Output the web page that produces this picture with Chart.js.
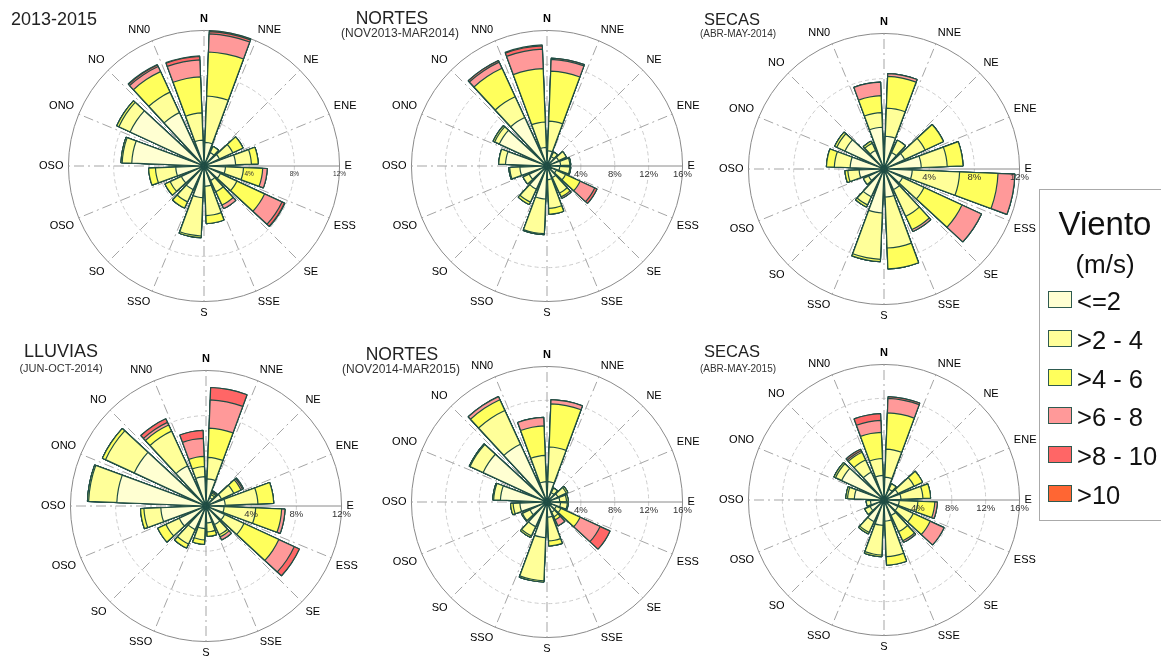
<!DOCTYPE html>
<html lang="es">
<head>
<meta charset="utf-8">
<title>Rosas de viento</title>
<script src="https://cdn.jsdelivr.net/npm/chart.js@4.4.1/dist/chart.umd.min.js"></script>
<style>
body { margin:0; width:1161px; height:662px; background:#fff; overflow:hidden; position:relative; font-family:"Liberation Sans", Arial, sans-serif; }
canvas { position:absolute; }
.tit { position:absolute; width:200px; text-align:center; line-height:1; color:#222; white-space:nowrap; }
#leyenda { position:absolute; left:1039px; top:189px; width:140px; height:332px; border:1px solid #aaa; box-sizing:border-box; }
.ley { position:absolute; line-height:1; color:#111; white-space:nowrap; }
.cuadro { position:absolute; left:1048px; width:22px; height:15px; border:1px solid #2e5a50; }
</style>
</head>
<body>

<canvas id="rosa1" width="330" height="330" style="left:33px;top:1px"></canvas>
<canvas id="rosa2" width="330" height="330" style="left:376px;top:1px"></canvas>
<canvas id="rosa3" width="330" height="330" style="left:713px;top:4px"></canvas>
<canvas id="rosa4" width="330" height="330" style="left:35px;top:341px"></canvas>
<canvas id="rosa5" width="330" height="330" style="left:376px;top:337px"></canvas>
<canvas id="rosa6" width="330" height="330" style="left:713px;top:335px"></canvas>

<div class="tit" style="left:-46px;top:10px;font-size:18px">2013-2015</div>
<div class="tit" style="left:292px;top:10px;font-size:17.5px">NORTES</div>
<div class="tit" style="left:300px;top:27px;font-size:12px;color:#333">(NOV2013-MAR2014)</div>
<div class="tit" style="left:632px;top:11px;font-size:16.5px">SECAS</div>
<div class="tit" style="left:638px;top:28.5px;font-size:10px;color:#333">(ABR-MAY-2014)</div>
<div class="tit" style="left:-39px;top:342px;font-size:18px">LLUVIAS</div>
<div class="tit" style="left:-39px;top:362.5px;font-size:11px;color:#333">(JUN-OCT-2014)</div>
<div class="tit" style="left:302px;top:346px;font-size:17.5px">NORTES</div>
<div class="tit" style="left:301px;top:363px;font-size:12px;color:#333">(NOV2014-MAR2015)</div>
<div class="tit" style="left:632px;top:343px;font-size:16.5px">SECAS</div>
<div class="tit" style="left:638px;top:363.5px;font-size:10px;color:#333">(ABR-MAY-2015)</div>

<div id="leyenda"></div>
<div class="ley" style="left:1005px;width:200px;text-align:center;top:207px;font-size:33px">Viento</div>
<div class="ley" style="left:1005px;width:200px;text-align:center;top:251px;font-size:26px">(m/s)</div>
<div id="items"></div>

<script>
// direcciones (etiquetas del eje) y rangos de velocidad
var direcciones = ['N', 'NNE', 'NE', 'ENE', 'E', 'ESS', 'SE', 'SSE', 'S', 'SSO', 'SO', 'OSO', 'OSO', 'ONO', 'NO', 'NN0'];
var rangos = ['<=2', '>2 - 4', '>4 - 6', '>6 - 8', '>8 - 10', '>10'];
var colores = ['#ffffd2', '#ffff99', '#ffff5c', '#ff9999', '#ff6666', '#ff6633'];

// frecuencia (%) por sector, sector 0 = N-NNE y sigue en sentido horario
// 2013-2015
var r1_b0 = [2.1, 1.3, 1.5, 2.8, 1.9, 1.6, 1.4, 1.8, 2.8, 2.3, 2.2, 2.5, 6.4, 7.2, 5.2, 2.3];
var r1_b1 = [4.1, 0.6, 1.3, 1.4, 1.6, 1.6, 1.1, 2.6, 3.4, 1.2, 1.1, 1.8, 0.85, 1.1, 2.0, 2.4];
var r1_b2 = [3.9, 0, 1.0, 0.6, 1.7, 2.7, 1.3, 0.7, 0.15, 0.6, 0.5, 0.6, 0.1, 0.2, 2.0, 3.2];
var r1_b3 = [1.6, 0, 0, 0, 0.4, 1.7, 0.35, 0, 0, 0, 0, 0, 0, 0, 0.5, 1.5];
var r1_b4 = [0.2, 0, 0, 0, 0, 0.25, 0, 0, 0, 0, 0, 0, 0, 0, 0.15, 0.3];
var r1_b5 = [0.1, 0, 0, 0, 0, 0.05, 0, 0, 0, 0, 0, 0, 0, 0, 0.05, 0.05];

// nortes nov2013-mar2014
var r2_b0 = [1.8, 1.2, 1.5, 1.6, 1.5, 1.2, 1.5, 1.6, 3.9, 3.0, 2.3, 3.2, 4.9, 6.2, 6.3, 2.2];
var r2_b1 = [3.5, 0.6, 1.0, 1.1, 1.2, 1.2, 2.0, 3.4, 4.1, 1.7, 0.8, 1.2, 0.8, 0.6, 2.7, 3.0];
var r2_b2 = [5.9, 0, 0, 0.1, 0.1, 1.9, 0.5, 0.7, 0.1, 0.3, 0, 0.1, 0, 0.2, 3.7, 6.3];
var r2_b3 = [1.4, 0, 0, 0, 0, 1.9, 0.2, 0, 0, 0, 0, 0, 0, 0, 0.8, 2.3];
var r2_b4 = [0.15, 0, 0, 0, 0, 0.3, 0, 0, 0, 0, 0, 0, 0, 0, 0.2, 0.4];
var r2_b5 = [0, 0, 0, 0, 0, 0, 0, 0, 0, 0, 0, 0, 0, 0, 0, 0.1];

// secas abr-may 2014
var r3_b0 = [2.9, 1.6, 2.0, 3.3, 2.5, 1.8, 2.0, 2.5, 3.9, 2.7, 1.5, 2.2, 3.0, 3.8, 1.8, 3.7];
var r3_b1 = [2.5, 1.2, 2.0, 2.3, 4.2, 2.1, 2.6, 4.5, 4.1, 0.8, 0.5, 1.0, 1.4, 0.8, 0.7, 1.3];
var r3_b2 = [2.8, 0, 1.8, 1.4, 3.4, 3.7, 1.3, 1.85, 0.2, 0.2, 0, 0.25, 0.7, 0.2, 0.2, 1.5];
var r3_b3 = [0.25, 0, 0, 0, 1.5, 1.9, 0.2, 0, 0, 0, 0, 0, 0, 0, 0, 1.2];
var r3_b4 = [0, 0, 0, 0, 0, 0, 0, 0, 0, 0, 0, 0, 0, 0, 0, 0];
var r3_b5 = [0, 0, 0, 0, 0, 0, 0, 0, 0, 0, 0, 0, 0, 0, 0, 0];

// lluvias jun-oct 2014
var r4_b0 = [2.4, 0.8, 1.5, 1.7, 1.6, 1.8, 1.8, 1.5, 2.0, 2.3, 2.6, 4.0, 7.9, 7.0, 3.9, 2.6];
var r4_b1 = [1.9, 0.3, 1.2, 2.9, 2.8, 1.9, 1.0, 0.8, 1.0, 1.4, 1.3, 1.5, 2.5, 2.8, 3.4, 0.9];
var r4_b2 = [2.6, 0.15, 0.7, 1.4, 2.3, 3.4, 0.2, 0.4, 0.4, 0.4, 0.8, 0.3, 0.1, 0.3, 0.6, 0.9];
var r4_b3 = [2.5, 0.1, 0.15, 0, 0.3, 1.5, 0.3, 0, 0, 0, 0, 0, 0, 0, 0.25, 1.6];
var r4_b4 = [1.1, 0.1, 0.1, 0, 0, 0.5, 0, 0, 0, 0, 0, 0, 0, 0, 0.35, 0.7];
var r4_b5 = [0, 0, 0, 0, 0, 0, 0, 0, 0, 0, 0, 0, 0, 0, 0, 0];

// nortes nov2014-mar2015
var r5_b0 = [2.4, 1.2, 1.4, 1.5, 1.6, 1.2, 1.3, 1.8, 4.2, 3.2, 2.2, 3.2, 5.5, 8.3, 7.5, 2.4];
var r5_b1 = [4.1, 0.6, 1.1, 0.8, 0.8, 0.6, 0.6, 2.8, 5.1, 1.2, 1.0, 0.8, 0.8, 1.7, 4.4, 3.1];
var r5_b2 = [5.1, 0, 0.2, 0.2, 0.1, 2.5, 0.4, 0.6, 0.15, 0.2, 0.1, 0.3, 0.1, 0.1, 1.4, 3.5];
var r5_b3 = [0.5, 0, 0, 0, 0, 2.6, 0.8, 0, 0, 0, 0, 0, 0, 0, 0.4, 1.0];
var r5_b4 = [0, 0, 0, 0, 0, 1.3, 0, 0, 0, 0, 0, 0, 0, 0, 0, 0];
var r5_b5 = [0, 0, 0, 0, 0, 0, 0, 0, 0, 0, 0, 0, 0, 0, 0, 0];

// secas abr-may 2015
var r6_b0 = [2.7, 1.4, 1.8, 2.0, 1.8, 1.8, 2.0, 2.5, 3.0, 2.8, 1.8, 1.6, 3.5, 5.5, 3.6, 2.9];
var r6_b1 = [3.3, 0.7, 2.1, 2.6, 2.2, 2.0, 2.1, 4.2, 3.5, 1.4, 0.7, 0.5, 0.8, 0.8, 1.6, 2.0];
var r6_b2 = [4.3, 0, 1.1, 0.9, 2.0, 2.2, 1.2, 1.0, 0.2, 0.2, 0, 0, 0.2, 0.2, 1.0, 3.1];
var r6_b3 = [1.7, 0, 0, 0, 0.3, 1.8, 0.2, 0, 0, 0, 0, 0, 0, 0, 0.2, 1.4];
var r6_b4 = [0.2, 0, 0, 0, 0, 0, 0, 0, 0, 0, 0, 0, 0, 0, 0.2, 0.8];
var r6_b5 = [0, 0, 0, 0, 0, 0, 0, 0, 0, 0, 0, 0, 0, 0, 0, 0];

var ANCHO = 18;   // grados de cada barra
var HUECO = 4.5;  // separacion entre barras

// etiquetas de porcentaje sobre el eje E
var etiquetasE = {
    id: 'etiquetasE',
    afterDatasetsDraw: function(chart, args, opts) {
        var r = chart.scales.r;
        var ctx = chart.ctx;
        ctx.save();
        ctx.font = opts.size + 'px "Liberation Sans", Arial';
        ctx.fillStyle = '#333';
        ctx.textAlign = 'center';
        ctx.textBaseline = 'middle';
        r.ticks.forEach(function(t) {
            if (t.value === 0) return;
            ctx.fillText(t.value + '%', r.xCenter + r.getDistanceFromCenterForValue(t.value), r.yCenter + 8);
        });
        ctx.restore();
    }
};

function hacerRosa(id, bins, max, tamTicks) {
    var ultimo = max / 4;
    var datasets = [];
    for (var k = 0; k < bins.length; k++) {
        // acumulado hasta el rango k, con un hueco entre sectores
        var data = [0];
        for (var s = 0; s < 16; s++) {
            var suma = 0;
            for (var j = 0; j <= k; j++) suma += bins[j][s];
            data.push(suma, 0);
        }
        datasets.push({
            label: rangos[k],
            data: data,
            backgroundColor: colores[k],
            borderColor: '#1f4d44',
            borderWidth: function(c) { return c.dataIndex % 2 ? 1.2 : 0; },
            angle: function(c) { return c.dataIndex === 0 ? HUECO / 2 : (c.dataIndex % 2 ? ANCHO : HUECO); }
        });
    }
    new Chart(document.getElementById(id), {
        type: 'polarArea',
        data: { datasets: datasets },
        plugins: [etiquetasE],
        options: {
            responsive: false,
            animation: false,
            events: [],
            layout: { padding: 0 },
            plugins: {
                legend: { display: false },
                tooltip: { enabled: false },
                etiquetasE: { size: tamTicks }
            },
            scales: {
                r: {
                    min: 0,
                    max: max,
                    startAngle: 0,
                    labels: direcciones,
                    ticks: { display: false, stepSize: 4 },
                    grid: {
                        circular: true,
                        lineWidth: 1,
                        color: function(c) { return c.index === ultimo ? '#8a8a8a' : '#cccccc'; }
                    },
                    border: { dash: function(c) { return c.index === ultimo ? [] : [4, 3]; } },
                    angleLines: {
                        display: true,
                        lineWidth: 1,
                        color: function(c) { return c.index === 4 ? '#8a8a8a' : '#a5a5a5'; },
                        borderDash: function(c) { return c.index === 4 ? [] : [10, 4, 2, 4]; }
                    },
                    pointLabels: {
                        display: true,
                        padding: 5,
                        color: '#000',
                        font: function(c) {
                            return { family: '"Liberation Sans", Arial', size: 11, weight: c.index === 0 ? 'bold' : 'normal' };
                        }
                    }
                }
            }
        }
    });
}

hacerRosa('rosa1', [r1_b0, r1_b1, r1_b2, r1_b3, r1_b4, r1_b5], 12, 6.5);
hacerRosa('rosa2', [r2_b0, r2_b1, r2_b2, r2_b3, r2_b4, r2_b5], 16, 9.5);
hacerRosa('rosa3', [r3_b0, r3_b1, r3_b2, r3_b3, r3_b4, r3_b5], 12, 9.5);
hacerRosa('rosa4', [r4_b0, r4_b1, r4_b2, r4_b3, r4_b4, r4_b5], 12, 9.5);
hacerRosa('rosa5', [r5_b0, r5_b1, r5_b2, r5_b3, r5_b4, r5_b5], 16, 9.5);
hacerRosa('rosa6', [r6_b0, r6_b1, r6_b2, r6_b3, r6_b4, r6_b5], 16, 9.5);

// leyenda
var items = '';
for (var i = 0; i < rangos.length; i++) {
    var y = 291 + i * 38.8;
    items += '<div class="cuadro" style="top:' + y + 'px;background:' + colores[i] + '"></div>';
    items += '<div class="ley" style="left:1077px;top:' + (y - 2) + 'px;font-size:25.5px">' + rangos[i].replace('<', '&lt;').replace('>', '&gt;') + '</div>';
}
document.getElementById('items').innerHTML = items;
</script>
</body>
</html>
